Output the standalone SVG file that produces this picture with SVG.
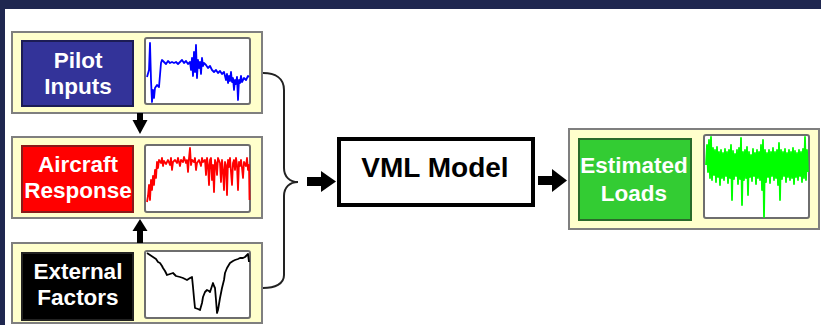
<svg xmlns="http://www.w3.org/2000/svg" width="821" height="325" viewBox="0 0 821 325">
<style>
.panel{fill:#ffffcc;stroke:#7f7f7f;stroke-width:2}
.graph{fill:#ffffff;stroke:#6e6e6e;stroke-width:2}
.lbl{fill:#ffffff;font-family:"Liberation Sans",Arial,sans-serif;font-weight:bold;font-size:22.5px;text-anchor:middle}
.trace{fill:none;stroke-width:1.8;stroke-linejoin:round}
.arrow{fill:#000000}
</style>
<rect x="0" y="0" width="821" height="325" fill="#ffffff"/>
<rect x="0" y="0" width="821" height="9" fill="#1f2750"/>
<rect x="0" y="0" width="5" height="325" fill="#1f2750"/>

<g id="pilot-inputs">
<rect class="panel" x="12" y="32" width="250" height="81"/>
<rect x="22" y="41" width="111" height="65" fill="#333399" stroke="#1c1c55" stroke-width="2"/>
<text class="lbl" x="78" y="68">Pilot</text>
<text class="lbl" x="78" y="94">Inputs</text>
<rect class="graph" x="145" y="38" width="105" height="66" rx="2"/>
<polyline class="trace" stroke="#0000ff" points="147,77 149,70 150,43 151,80 152,102 153,90 154,98 155,88 157,85 159,87 160,75 161,63 162,60 164,62 166,64 168,61 170,63 172,62 174,63 176,62 178,64 180,62 182,60 184,63 186,61 188,64 190,62 191,70 192,58 193,76 194,52 195,72 196,45 197,78 198,60 199,68 200,62 201,74 202,58 203,66 204,63 206,65 208,68 210,66 212,70 214,72 216,70 218,73 220,71 222,74 224,72 226,80 227,74 228,83 229,76 230,81 231,72 232,82 233,78 234,90 235,80 236,84 237,77 238,100 239,80 240,83 241,76 242,82 244,78 246,80 248,76 249,77"/>
</g>

<g id="aircraft-response">
<rect class="panel" x="12" y="137" width="250" height="81"/>
<rect x="22" y="146" width="111" height="66" fill="#ff0000" stroke="#8a1a1a" stroke-width="2"/>
<text class="lbl" x="78" y="172">Aircraft</text>
<text class="lbl" x="78" y="198">Response</text>
<rect class="graph" x="145" y="145" width="105" height="67" rx="2"/>
<polyline class="trace" stroke="#ff0000" stroke-width="1.5" points="147,202 148,196 149,185 150,200 151,180 152,190 153,176 154,185 155,170 156,178 157,162 158,168 159,160 161,163 162,158 163,166 164,161 166,164 168,160 170,165 171,158 172,170 173,162 175,160 177,163 178,158 180,166 181,160 183,162 184,157 186,163 187,160 188,172 189,158 190,148 191,165 192,160 194,162 195,158 196,170 197,163 199,160 201,166 202,158 203,162 205,160 206,175 207,158 208,165 209,185 210,160 211,158 212,180 213,165 214,192 215,160 216,163 217,175 218,158 220,163 221,182 222,160 223,170 224,190 225,162 226,165 227,195 228,160 229,167 230,158 231,172 232,185 233,163 234,160 235,170 236,158 237,165 238,190 239,162 240,166 241,160 242,168 243,178 244,162 246,166 247,158 248,170 249,165 249.5,200"/>
</g>

<g id="external-factors">
<rect class="panel" x="12" y="243" width="250" height="80"/>
<rect x="22" y="253" width="111" height="67" fill="#000000" stroke="#222222" stroke-width="2"/>
<text class="lbl" x="78" y="279" font-size="23">External</text>
<text class="lbl" x="78" y="305" font-size="23">Factors</text>
<rect class="graph" x="145" y="251" width="105" height="67" rx="2"/>
<polyline class="trace" stroke="#000000" stroke-width="1.5" points="147,253 150,255 153,257 156,259 158,262 160,263 162,266 163,268 165,271 167,275 170,274 173,273 176,276 180,277 183,278 187,280 190,278 192,277 193,287 194,298 195,308 198,309 200,310 202,303 203,297 205,292 207,290 209,291 210,292 212,286 213,283 214,286 215,288 216,300 217,313 218,310 220,298 222,288 224,280 225,273 227,268 230,263 233,261 235,260 238,259 240,258 243,258 245,257 247,255 248,254 249,262"/>
</g>

<g id="vml-model">
<rect x="339" y="139" width="194" height="66" fill="#ffffff" stroke="#000000" stroke-width="4"/>
<text x="435" y="177" font-family="'Liberation Sans',Arial,sans-serif" font-weight="bold" font-size="28" text-anchor="middle" fill="#000000">VML Model</text>
</g>

<g id="estimated-loads">
<rect class="panel" x="569" y="129" width="250" height="100"/>
<rect x="579" y="139" width="112" height="81" fill="#33cc33" stroke="#2a6a2a" stroke-width="2"/>
<text class="lbl" x="634" y="173">Estimated</text>
<text class="lbl" x="634" y="201">Loads</text>
<rect class="graph" x="704" y="135" width="105" height="83" rx="2"/>
<polyline class="trace" stroke="#00ff00" stroke-width="2" points="706,165 707,145 708,172 709,140 710,178 711,137 712,180 713,148 714,175 715,150 716,182 717,147 718,177 719,152 720,185 721,150 722,178 723,153 724,180 725,149 726,176 727,152 728,183 729,150 730,178 731,145 732,200 733,151 734,179 735,154 736,176 737,150 738,184 739,148 740,179 741,138 742,205 743,152 744,180 745,150 746,178 747,147 748,195 749,152 750,177 751,155 752,181 753,149 754,176 755,153 756,184 757,150 758,178 759,152 760,180 761,145 762,190 763,140 764,217 765,150 766,182 767,153 768,177 769,150 770,183 771,152 772,176 773,148 774,180 775,152 776,178 777,150 778,185 779,143 780,200 781,150 782,179 783,152 784,176 785,149 786,182 787,153 788,177 789,150 790,180 791,152 792,178 793,148 794,184 795,151 796,177 797,153 798,180 799,150 800,176 801,152 802,182 803,149 804,178 805,137 806,180 807,150 808,172"/>
</g>

<g id="connectors">
<path d="M263,73 C275,73 284,78 284,90 L284,168 C284,177 290,182 298,182 C290,182 284,187 284,196 L284,275 C284,284 275,288 263,288" fill="none" stroke="#222222" stroke-width="2"/>
<rect class="arrow" x="307" y="177" width="16" height="9"/>
<polygon class="arrow" points="321,171 336,181.5 321,192"/>
<rect class="arrow" x="538" y="176" width="16" height="9"/>
<polygon class="arrow" points="552,169 567,180.5 552,192"/>
<rect class="arrow" x="137" y="113" width="6" height="9"/>
<polygon class="arrow" points="132.5,120 147.5,120 140,134"/>
<rect class="arrow" x="137" y="229" width="6" height="14"/>
<polygon class="arrow" points="132.5,231 147.5,231 140,219"/>
</g>
</svg>
